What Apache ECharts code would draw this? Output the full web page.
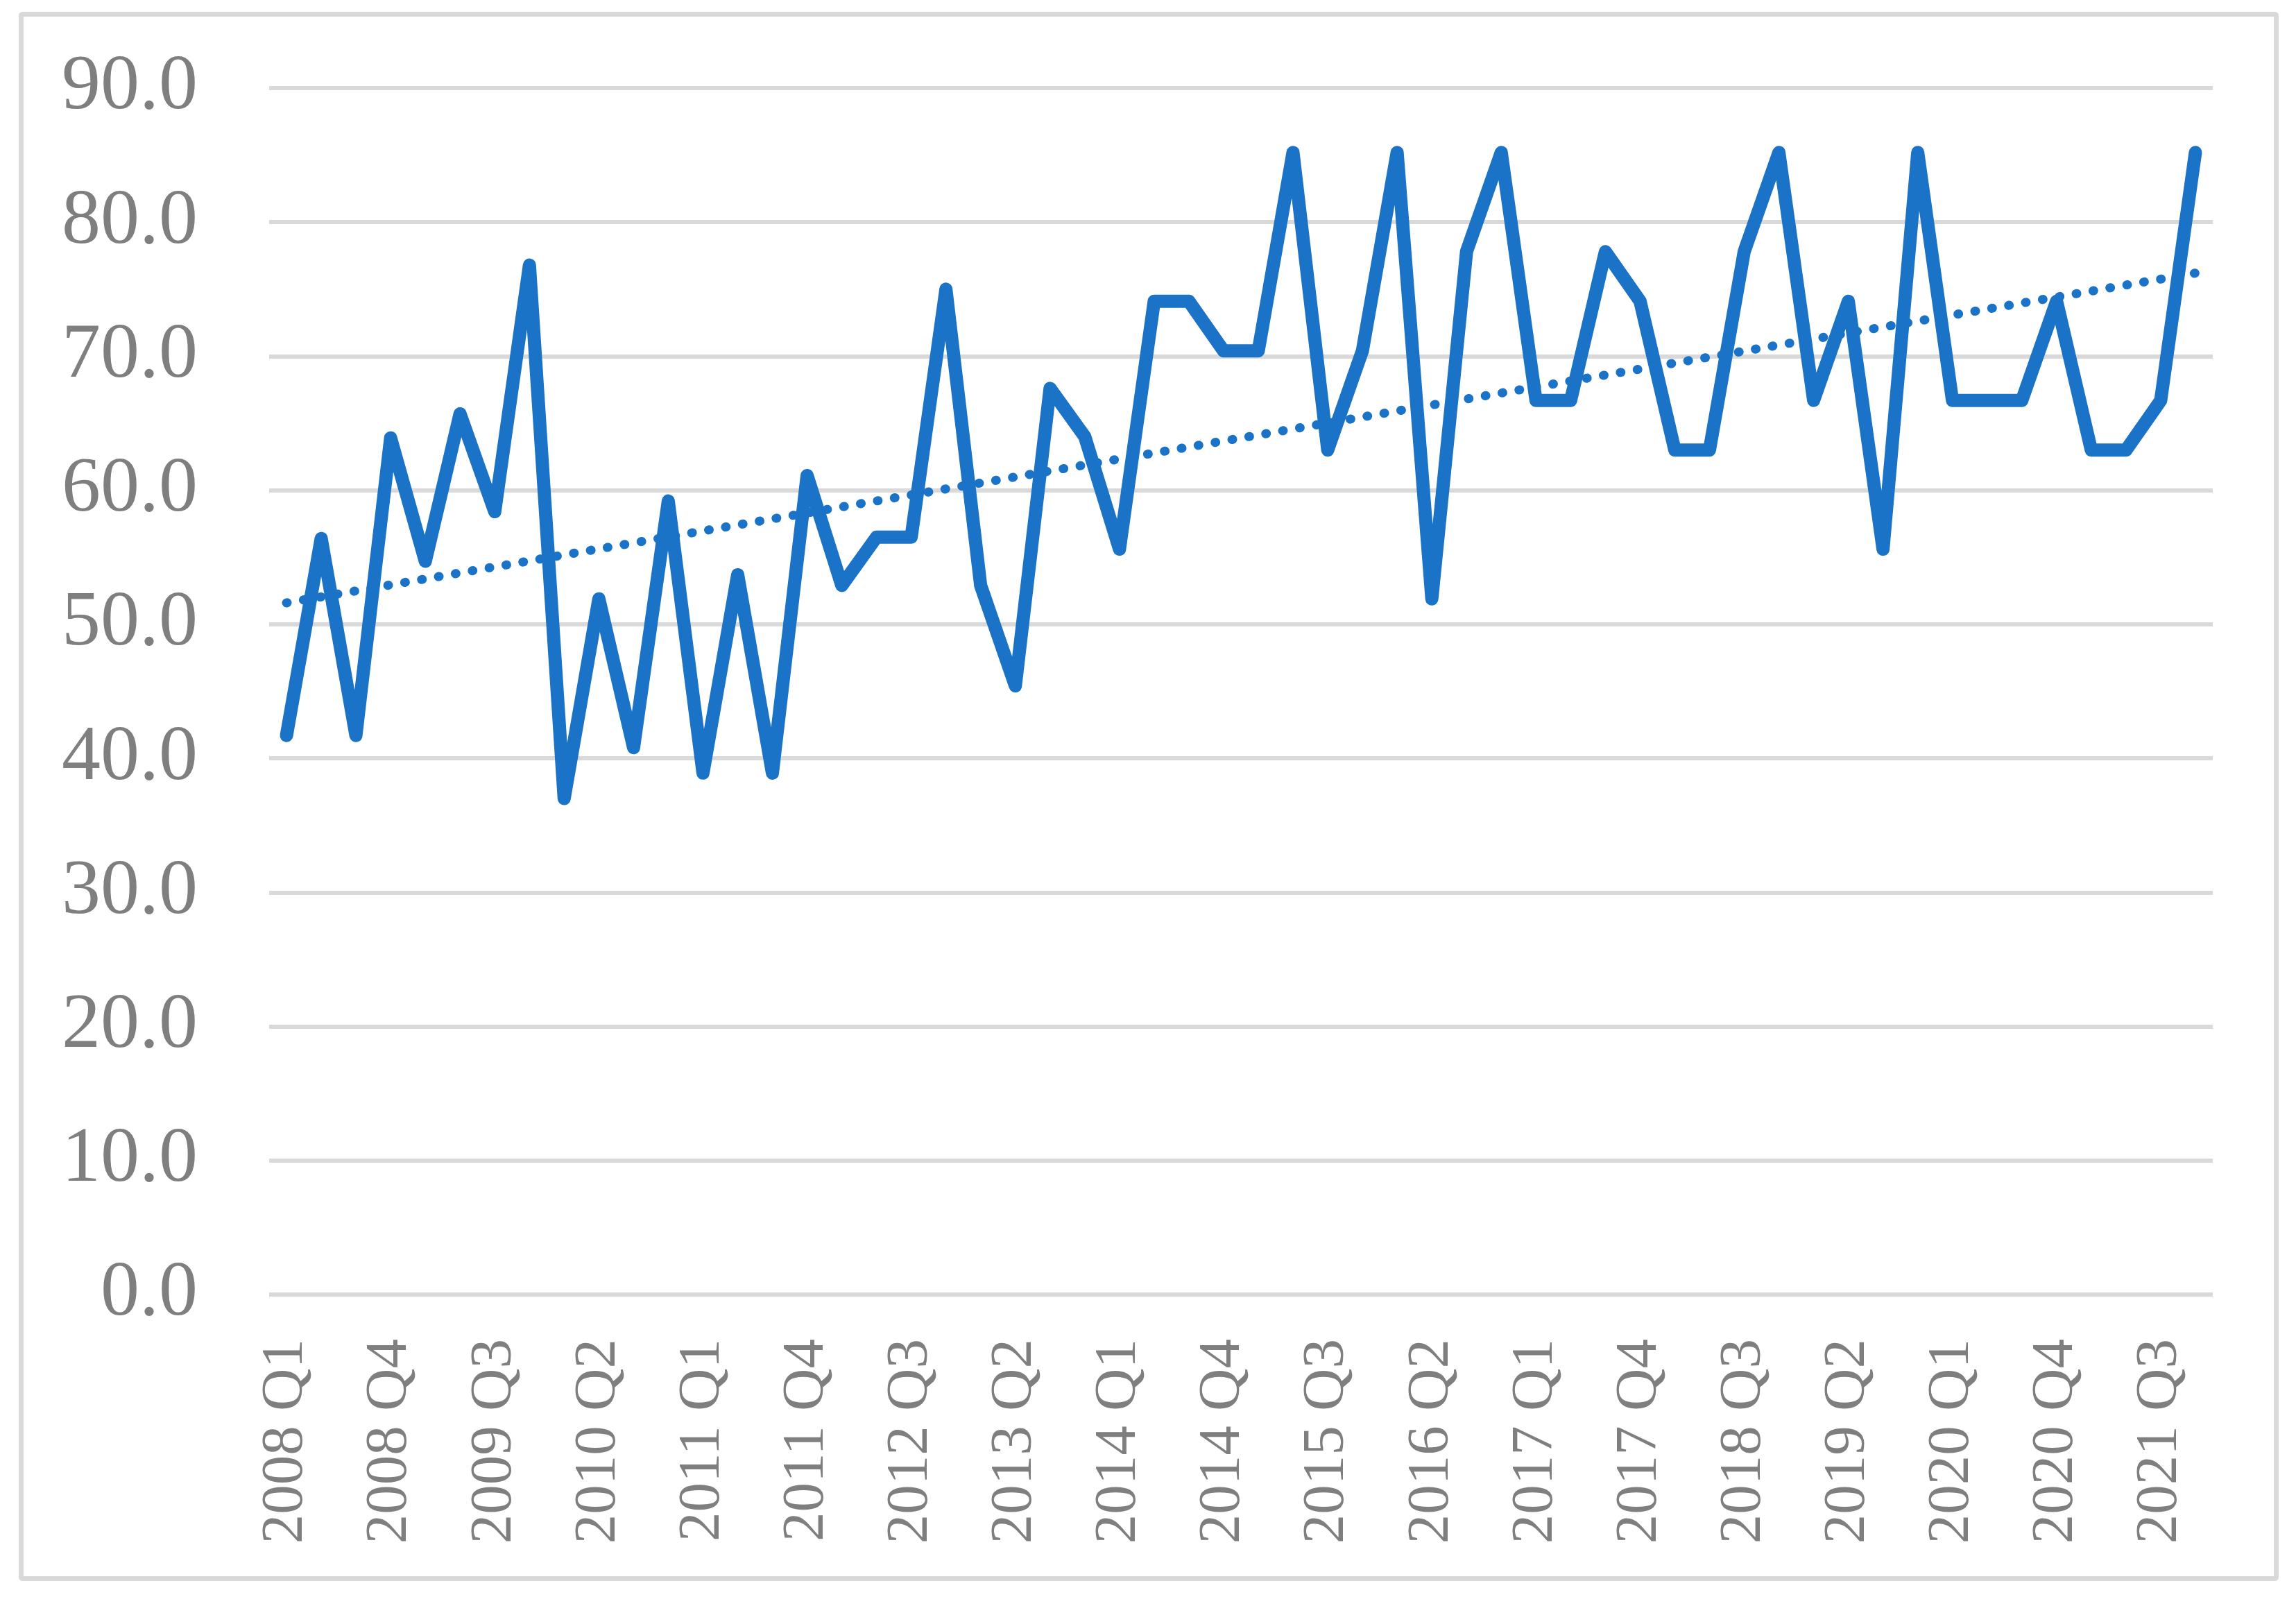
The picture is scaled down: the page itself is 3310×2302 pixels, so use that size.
<!DOCTYPE html>
<html>
<head>
<meta charset="utf-8">
<script src="https://cdn.jsdelivr.net/npm/echarts@6/dist/echarts.min.js"></script>
<style>
html,body{margin:0;padding:0;background:#fff;}
#chart{width:3310px;height:2302px;}
</style>
</head>
<body>
<div id="chart"></div>
<script>
const categories = [
  '2008 Q1','2008 Q2','2008 Q3','2008 Q4',
  '2009 Q1','2009 Q2','2009 Q3','2009 Q4',
  '2010 Q1','2010 Q2','2010 Q3','2010 Q4',
  '2011 Q1','2011 Q2','2011 Q3','2011 Q4',
  '2012 Q1','2012 Q2','2012 Q3','2012 Q4',
  '2013 Q1','2013 Q2','2013 Q3','2013 Q4',
  '2014 Q1','2014 Q2','2014 Q3','2014 Q4',
  '2015 Q1','2015 Q2','2015 Q3','2015 Q4',
  '2016 Q1','2016 Q2','2016 Q3','2016 Q4',
  '2017 Q1','2017 Q2','2017 Q3','2017 Q4',
  '2018 Q1','2018 Q2','2018 Q3','2018 Q4',
  '2019 Q1','2019 Q2','2019 Q3','2019 Q4',
  '2020 Q1','2020 Q2','2020 Q3','2020 Q4',
  '2021 Q1','2021 Q2','2021 Q3','2021 Q4'
];
const values = [
  41.7, 56.4, 41.7, 63.9,
  54.7, 65.7, 58.4, 76.8,
  37.0, 51.9, 40.8, 59.2,
  38.9, 53.7, 38.9, 61.1,
  52.9, 56.5, 56.5, 75.0,
  52.9, 45.4, 67.6, 64.0,
  55.6, 74.1, 74.1, 70.4,
  70.4, 85.2, 63.0, 70.4,
  85.2, 51.9, 77.8, 85.2,
  66.7, 66.7, 77.8, 74.1,
  63.0, 63.0, 77.8, 85.2,
  66.7, 74.1, 55.6, 85.2,
  66.7, 66.7, 66.7, 74.1,
  63.0, 63.0, 66.7, 85.2
];
const trendEnds = [51.6, 76.2];
const yMin = 0, yMax = 90, yStep = 10;

const blue = '#1A73C6';
const gray = '#7F7F7F';
const gridGray = '#D9D9D9';
const font = '"Liberation Serif", "Times New Roman", serif';

const chart = echarts.init(document.getElementById('chart'), null, {renderer: 'canvas'});
chart.setOption({
  animation: false,
  backgroundColor: '#ffffff',
  graphic: [{
    type: 'rect',
    shape: {x: 30.5, y: 20.5, width: 3251, height: 2255, r: 2},
    style: {fill: 'none', stroke: gridGray, lineWidth: 7},
    silent: true
  }],
  grid: {left: 388, right: 120, top: 127, bottom: 436, containLabel: false},
  xAxis: {
    type: 'category',
    data: categories,
    boundaryGap: true,
    axisLine: {show: false},
    axisTick: {show: false},
    axisLabel: {
      interval: 2,
      rotate: 90,
      margin: 64,
      color: gray,
      fontFamily: font,
      fontSize: 85
    },
    splitLine: {show: false}
  },
  yAxis: {
    type: 'value',
    min: yMin,
    max: yMax,
    interval: yStep,
    axisLine: {show: false},
    axisTick: {show: false},
    axisLabel: {
      margin: 103,
      color: gray,
      fontFamily: font,
      fontSize: 112,
      formatter: v => v.toFixed(1)
    },
    splitLine: {show: true, lineStyle: {color: gridGray, width: 6}}
  },
  series: [{
    type: 'line',
    data: values,
    symbol: 'none',
    lineStyle: {color: blue, width: 19, join: 'round', cap: 'round'},
    markLine: {
      silent: true,
      symbol: ['none', 'none'],
      label: {show: false},
      lineStyle: {color: blue, width: 13, type: [1, 23.7], cap: 'round'},
      emphasis: {disabled: true},
      data: [[
        {coord: [categories[0], trendEnds[0]]},
        {coord: [categories[categories.length - 1], trendEnds[1]]}
      ]]
    }
  }]
});
</script>
</body>
</html>
